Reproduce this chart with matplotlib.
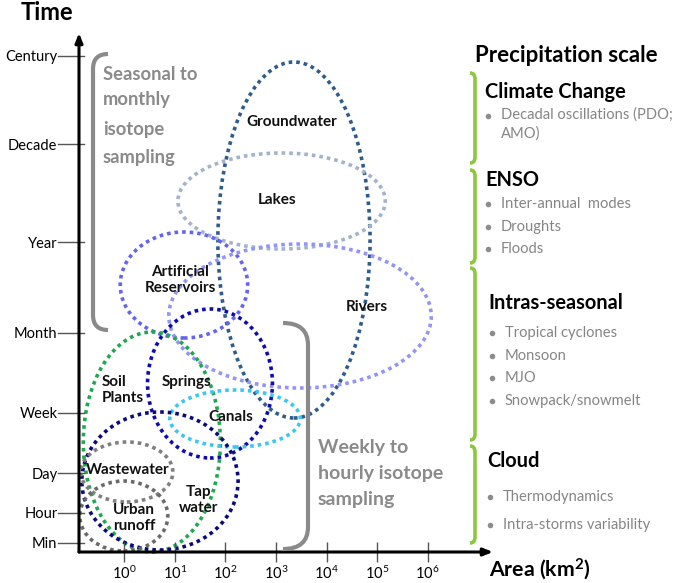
import matplotlib
matplotlib.use("Agg")
import matplotlib.pyplot as plt
from matplotlib.patches import Ellipse, PathPatch
from matplotlib.path import Path

plt.rcParams['font.family'] = ['Lato', 'DejaVu Sans']
plt.rcParams['mathtext.fontset'] = 'custom'
plt.rcParams['mathtext.rm'] = 'Lato'
plt.rcParams['mathtext.it'] = 'Lato:italic'
plt.rcParams['mathtext.bf'] = 'Lato:bold'

# ---------------- data ----------------
time_labels = ["Min", "Hour", "Day", "Week", "Month", "Year", "Decade", "Century"]
time_ticks = [9, 39, 79, 139, 219, 310, 408, 496]          # ordinal time-scale positions
area_exponents = [0, 1, 2, 3, 4, 5, 6]                      # log10(km^2)

water_bodies = ["Groundwater", "Lakes", "Artificial\nReservoirs", "Rivers",
                "Springs", "Soil\nPlants", "Canals", "Tap\nwater",
                "Wastewater", "Urban\nrunoff"]
area_lo = [1.85, 1.06, -0.08, 0.88, 0.46, -0.81, 0.90, -0.84, -0.86, -0.88]
area_hi = [4.86, 5.16, 2.44, 6.07, 2.93, 1.90, 3.48, 2.25, 0.96, 0.86]
time_lo = [134, 303, 214, 164, 94, 0, 105, 2, 50, 1]
time_hi = [490, 399, 320, 308, 243, 220, 162, 140, 110, 71]
colors = ["#2F5C8A", "#A2B3CB", "#6464F0", "#9494F6", "#0C0CB0",
          "#1FA84F", "#3EC6F2", "#0A0A78", "#808080", "#6A6A6A"]

scale_groups = ["Climate Change", "ENSO", "Intras-seasonal", "Cloud"]
scale_items = [["Decadal oscillations (PDO;\nAMO)"],
               ["Inter-annual  modes", "Droughts", "Floods"],
               ["Tropical cyclones", "Monsoon", "MJO", "Snowpack/snowmelt"],
               ["Thermodynamics", "Intra-storms variability"]]

sampling_left = ["Seasonal to", "monthly", "isotope", "sampling"]
sampling_right = ["Weekly to", "hourly isotope", "sampling"]

# ---------------- layout ----------------
W, H = 673, 583
fig = plt.figure(figsize=(W / 100, H / 100), dpi=100)

ax_l, ax_r, ax_t, ax_b = 79, 493, 33, 552
ax = fig.add_axes([ax_l / W, (H - ax_b) / H, (ax_r - ax_l) / W, (ax_b - ax_t) / H])
ax.set_facecolor('none')
px_per_dec = 50.57
x0_px = 124.3
ax.set_xlim((ax_l - x0_px) / px_per_dec, (ax_r - x0_px) / px_per_dec)
ax.set_ylim(0, ax_b - ax_t)
for s in ax.spines.values():
    s.set_visible(False)

# ellipses
for name, a0, a1, t0, t1, c in zip(water_bodies, area_lo, area_hi, time_lo, time_hi, colors):
    e = Ellipse(((a0 + a1) / 2, (t0 + t1) / 2), a1 - a0, t1 - t0, fill=False,
                edgecolor=c, lw=2.6, linestyle=(0, (1, 1.1)), clip_on=False)
    e.set_capstyle('butt')
    ax.add_patch(e)

# labels inside diagram (layout positions)
label_pos = {
    "Groundwater": (3.316, 430, 'center'),
    "Lakes": (3.018, 352, 'center'),
    "Artificial\nReservoirs": (1.103, 272, 'center'),
    "Rivers": (4.799, 245, 'center'),
    "Springs": (1.222, 170, 'center'),
    "Soil\nPlants": (-0.441, 162, 'left'),
    "Canals": (2.111, 135, 'center'),
    "Tap\nwater": (1.461, 52, 'center'),
    "Wastewater": (0.073, 82, 'center'),
    "Urban\nrunoff": (0.192, 34, 'center'),
}
for name in water_bodies:
    x, y, ha = label_pos[name]
    ax.text(x, y, name, ha=ha, va='center', fontsize=11, fontweight='bold',
            color='#111111', linespacing=1.25, zorder=5)

# axes arrows
arrow_kw = dict(arrowstyle='-|>,head_length=0.55,head_width=0.22', lw=2.2,
                color='black', shrinkA=0, shrinkB=0)
ax.annotate('', xy=(0, 1), xytext=(0, 0), xycoords='axes fraction', arrowprops=arrow_kw)
ax.annotate('', xy=(1, 0), xytext=(0, 0), xycoords='axes fraction', arrowprops=arrow_kw)

# y ticks (manual lines) and labels
ax.set_yticks(time_ticks)
ax.set_yticklabels(time_labels, fontsize=10.5)
ax.tick_params(axis='y', length=0, pad=15.5)
ytr = ax.get_yaxis_transform()
for t in time_ticks:
    ax.plot([-21 / (ax_r - ax_l), 5 / (ax_r - ax_l)], [t, t], transform=ytr,
            color='#555555', lw=1, clip_on=False)

# x ticks
ax.set_xticks(area_exponents)
ax.set_xticklabels([f"$10^{{{k}}}$" for k in area_exponents], fontsize=10.5)
ax.tick_params(axis='x', direction='inout', length=14, width=1, color='#555555', pad=2)

# ---------------- overlay (annotations) ----------------
ov = fig.add_axes([0, 0, 1, 1])
ov.set_xlim(0, W)
ov.set_ylim(H, 0)
ov.axis('off')
ov.set_facecolor('none')


def bracket(x_end, x_line, y0, y1, r, color, lw):
    verts = [(x_end, y0), (x_line, y0), (x_line, y0 + r),
             (x_line, y1 - r), (x_line, y1), (x_end, y1)]
    codes = [Path.MOVETO, Path.CURVE3, Path.CURVE3, Path.LINETO, Path.CURVE3, Path.CURVE3]
    ov.add_patch(PathPatch(Path(verts, codes), fill=False, edgecolor=color, lw=lw,
                           capstyle='butt'))


gray = '#8A8A8A'
bracket(108, 93, 54, 330, 15, gray, 3)
bracket(283, 308, 323, 549, 22, gray, 3)
for line, y in zip(sampling_left, [75, 100, 129, 157]):
    ov.text(103, y, line, ha='left', va='center', fontsize=13.2, fontweight='bold',
            color=gray)
for line, y in zip(sampling_right, [447, 473, 500]):
    ov.text(318, y, line, ha='left', va='center', fontsize=14, fontweight='bold',
            color=gray)

ov.text(47, 13, "Time", ha='center', va='center', fontsize=17, fontweight='bold')
ov.text(489, 569, "Area (km$^{\\mathbf{2}}$)", ha='left', va='center', fontsize=15.3,
        fontweight='bold')

ov.text(475, 55, "Precipitation scale", ha='left', va='center', fontsize=16,
        fontweight='bold')

green = '#8DC63F'
brk = [(73, 163), (170, 263), (268, 440), (446, 543)]
head_xy = [(485, 92), (485, 180), (488, 303), (487, 461)]
item_y = [[116], [204, 227, 249], [333, 356, 378, 401], [497, 525]]
item_x = [(488, 501), (488, 501), (492, 505), (490, 503)]
for g, items, (b0, b1), (hx, hy), ys, (bx, tx) in zip(scale_groups, scale_items, brk,
                                                    head_xy, item_y, item_x):
    bracket(470, 475, b0, b1, 6, green, 2.6)
    ov.text(hx, hy, g, ha='left', va='center', fontsize=14.4, fontweight='bold')
    for it, y in zip(items, ys):
        ov.plot([bx], [y], 'o', ms=4, color='#8C8C8C', mec='none')
        if '\n' in it:
            ov.text(tx, y - 8.5, it, ha='left', va='top', fontsize=10.6, color='#858585',
                    linespacing=1.4)
        else:
            ov.text(tx, y, it, ha='left', va='center', fontsize=10.6, color='#858585')

fig.savefig("out.png", dpi=100)
